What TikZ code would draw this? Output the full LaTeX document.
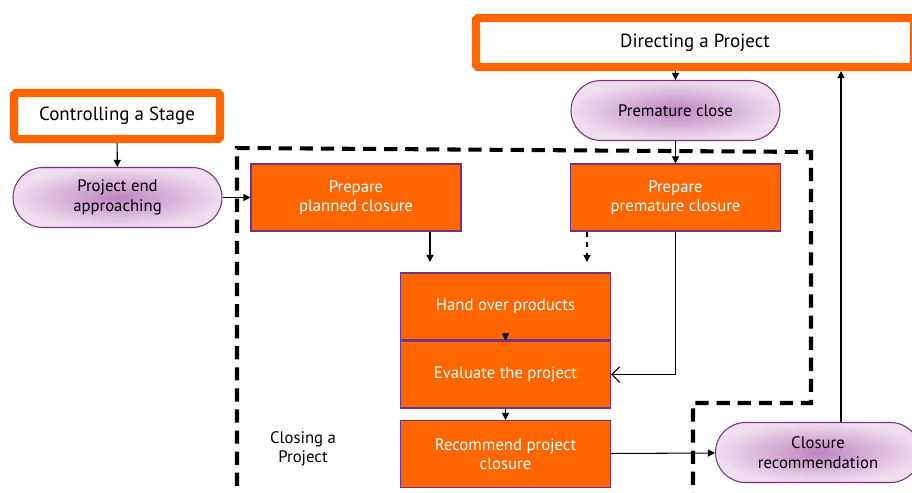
\documentclass[tikz,border=0pt]{standalone}
\usepackage{fontspec}
\setmainfont{PT Sans}
\usetikzlibrary{arrows.meta}

\definecolor{stageorange}{RGB}{255,102,0}
\definecolor{edgepurple}{RGB}{120,50,130}
\definecolor{pillinner}{RGB}{192,132,194}
\definecolor{pillouter}{RGB}{238,222,238}

\begin{document}
\begin{tikzpicture}[
    process/.style={draw=edgepurple, line width=0.6pt, fill=stageorange, text=white, minimum width=4.2cm, minimum height=1.34cm, align=center, font=\fontsize{9.5}{11}\selectfont},
    trigger/.style={draw=edgepurple, line width=0.6pt, rounded corners=0.6cm, inner color=pillinner, outer color=pillouter, minimum width=4.18cm, minimum height=1.2cm, align=center, font=\fontsize{9.5}{11}\selectfont},
    theme/.style={draw=stageorange, line width=4.6pt, rounded corners=1pt, fill=white, align=center, font=\fontsize{10.8}{13}\selectfont},
    arr/.style={-{Triangle[length=4pt,width=4pt]}, line width=0.6pt}
  ]
    \useasboundingbox (0,0) rectangle (18.24,9.84);

    \draw[line width=2.3pt, dash pattern=on 7.5pt off 4.5pt] (4.74,-0.3) -- (4.74,6.88) -- (16.22,6.80) -- (16.22,1.78) -- (13.86,1.78) -- (13.86,-0.3);

    \node[theme, minimum width=4.12cm, minimum height=0.92cm] (controlling) at (2.34,7.52) {Controlling a Stage};
    \node[theme, minimum width=8.76cm, minimum height=0.98cm] (directing) at (13.9,8.99) {Directing a Project};

    \node[trigger] (premclose) at (13.51,7.63) {Premature close};
    \node[trigger] (endnear) at (2.35,5.89) {Project end\\approaching};
    \node[trigger, minimum width=4.1cm] (closurerec) at (16.36,0.79) {Closure\\recommendation};

    \node[process] (planned) at (7.12,5.89) {Prepare\\planned closure};
    \node[process] (premature) at (13.51,5.89) {Prepare\\premature closure};
    \node[process] (handover) at (10.11,3.71) {Hand over products};
    \node[process] (evaluate) at (10.11,2.35) {Evaluate the project};
    \node[process] (recommend) at (10.11,0.76) {Recommend project\\closure};

    \node[align=center, font=\fontsize{9.5}{11}\selectfont] (closinglabel) at (6.06,0.86) {Closing a\\Project};

    \coordinate (plannedtip) at (8.6,4.6);
    \coordinate (prematuretip) at (11.74,4.6);
    \coordinate (returnline) at (16.82,0);

    \draw[arr] (controlling) -- (endnear);
    \draw[arr] (endnear) -- (planned);
    \draw[arr] (directing.south -| premclose) -- (premclose);
    \draw[arr] (premclose) -- (premature);
    \draw[arr] (plannedtip |- planned.south) -- (plannedtip);
    \draw[arr, dashed] (prematuretip |- premature.south) -- (prematuretip);
    \draw[line width=0.6pt, -{Straight Barb[length=4.5pt,width=9pt]}] (premature.south) |- (evaluate.east);
    \draw[arr] ([yshift=4pt]handover.south) -- (evaluate.north);
    \draw[arr] (evaluate) -- (recommend);
    \draw[arr] (recommend) -- (closurerec);
    \draw[arr] (returnline |- closurerec.north) -- (returnline |- directing.south);
  \end{tikzpicture}
\end{document}
